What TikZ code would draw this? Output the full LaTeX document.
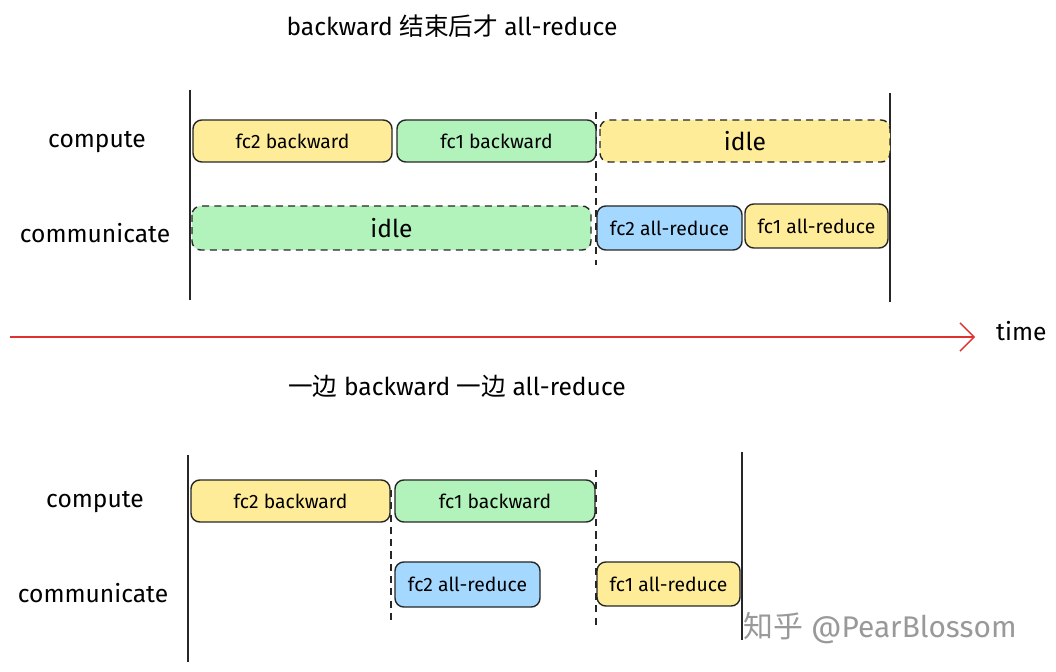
\documentclass[tikz,border=0pt]{standalone}
\usepackage{fontspec}
\usetikzlibrary{arrows.meta}
\setmainfont{Fira Sans}
\newfontfamily\cjk{Noto Sans CJK SC}
\definecolor{cyellow}{HTML}{FFEC99}
\definecolor{cgreen}{HTML}{B2F2BB}
\definecolor{cblue}{HTML}{A5D8FF}
\definecolor{cred}{HTML}{E03131}
\tikzset{
  task/.style={draw=black!85, thick, rounded corners=5pt, font=\fontsize{11}{13}\selectfont},
  idlebox/.style={task, dash pattern=on 4pt off 3pt, font=\fontsize{14}{16}\selectfont},
  rowlabel/.style={font=\fontsize{14}{16}\selectfont},
  bar/.style={thick, black!85},
  tick/.style={black!85, semithick, dash pattern=on 4pt off 3pt}
}
\begin{document}
\begin{tikzpicture}[x=0.02cm, y=-0.02cm]
\useasboundingbox (0,0) rectangle (1056,672);
% titles
\node[font=\fontsize{14}{16}\selectfont] (t1) at (452,26) {backward {\cjk 结束后才} all-reduce};
\node[font=\fontsize{14}{16}\selectfont] (t2) at (457,386) {{\cjk 一边} backward {\cjk 一边} all-reduce};

% upper timeline
\node[rowlabel] (c1) at (97,142) {compute};
\node[rowlabel] (m1) at (95,233) {communicate};
\draw[bar] (190,90) -- (190,300);
\draw[bar] (890,93) -- (890,302);
\draw[tick] (596,112) -- (596,265);
\draw[task, fill=cyellow] (193,120) rectangle node (a1) {fc2 backward} (392,162);
\draw[task, fill=cgreen] (397,120) rectangle node (a2) {fc1 backward} (596,162);
\draw[idlebox, fill=cyellow] (600,120) rectangle node (a3) {idle} (890,162);
\draw[idlebox, fill=cgreen] (192,206) rectangle node (b1) {idle} (591,250);
\draw[task, fill=cblue] (597,206) rectangle node (b2) {fc2 all-reduce} (742,250);
\draw[task, fill=cyellow] (745,204) rectangle node (b3) {fc1 all-reduce} (888,248);

% time axis
\coordinate (t0) at (10,337);
\node[rowlabel, anchor=west] (time) at (990,331) {time};
\draw[cred, thick, -{Straight Barb[length=8pt]}] (t0) -- (975,337);

% lower timeline
\node[rowlabel] (c2) at (95,502) {compute};
\node[rowlabel] (m2) at (93,593) {communicate};
\draw[bar] (188,455) -- (188,662);
\draw[bar] (742,452) -- (742,640);
\draw[tick] (391,490) -- (391,625);
\draw[tick] (596,470) -- (596,625);
\draw[task, fill=cyellow] (191,480) rectangle node (d1) {fc2 backward} (390,522);
\draw[task, fill=cgreen] (395,480) rectangle node (d2) {fc1 backward} (595,522);
\draw[task, fill=cblue] (395,562) rectangle node (e1) {fc2 all-reduce} (540,607);
\draw[task, fill=cyellow] (597,562) rectangle node (e2) {fc1 all-reduce} (740,606);

% watermark
\node[text=black!40, font=\fontsize{17}{19}\selectfont] (wm) at (880,628) {{\cjk 知乎} @PearBlossom};
\end{tikzpicture}
\end{document}
